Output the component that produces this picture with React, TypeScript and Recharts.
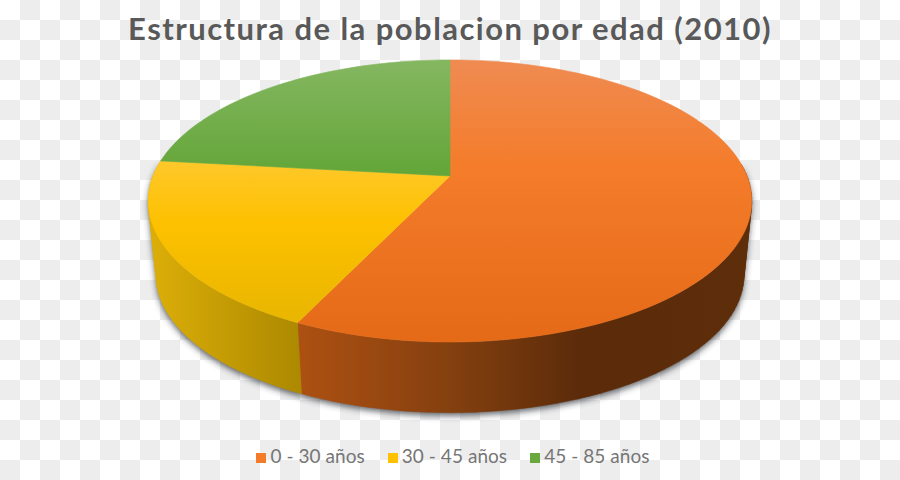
import React from 'react';
import { PieChart, Pie, Cell, Legend } from 'recharts';

const CATEGORIES = ['0 - 30 años', '30 - 45 años', '45 - 85 años'];
const SHARES = [57.1, 19.7, 23.2];
const COLORS = ['#f47b2a', '#fdc100', '#6aa83e'];

const TITLE = 'Estructura de la poblacion por edad (2010)';

// gradient stops of the upper face, over the whole disc height
const TOP_STOPS = [
  ['#ef8b52', '#f47c2a', '#e56a17'],
  ['#ffd36f', '#fdc100', '#e4b300'],
  ['#85b761', '#62a537', '#5a9a30'],
];
const TOP_MIDDLE = [0.38, 0.58, 0.42];
// gradient stops of the side wall, left to right
const WALL_STOPS = [
  ['#c25c16', '#a94f12', '#5a2a0a'],
  ['#dcae08', '#ac8900', '#8f7200'],
  ['#5a9a30', '#5a9a30', '#5a9a30'],
];

const chartData = CATEGORIES.map((name, i) => ({ name, value: SHARES[i] }));

// perspective of the disc
const SQUASH = 0.46;
const TILT = 0.177;
const DEPTH_Y = 75;
const DEPTH_SCALE = 0.974;

const project = (cx: number, cy: number, r: number, t: number, lower = false) => {
  const rad = (t * Math.PI) / 180;
  const u = Math.sin(rad);
  const v = Math.cos(rad);
  const w = 1 + TILT * v;
  const s = lower ? DEPTH_SCALE : 1;
  return {
    x: cx + (r * s * u) / w,
    y: cy + (lower ? DEPTH_Y : 0) - (r * SQUASH * s * v) / w,
  };
};

const arcPoints = (cx: number, cy: number, r: number, from: number, to: number) => {
  const pts = [];
  const steps = Math.max(2, Math.ceil(Math.abs(to - from) / 2));
  for (let i = 0; i <= steps; i++) {
    const p = project(cx, cy, r, from + ((to - from) * i) / steps);
    pts.push(`${p.x.toFixed(2)},${p.y.toFixed(2)}`);
  }
  return pts;
};

// the wall is swept quad by quad so the straight silhouette at the sides gets filled too
const wallPath = (props: any) => {
  const { cx, cy, outerRadius, startAngle, endAngle } = props;
  const from = Math.max(90 - startAngle, 85);
  const to = Math.min(90 - endAngle, 276.5);
  if (to <= from) return null;
  const steps = Math.ceil((to - from) / 2);
  let d = '';
  for (let i = 0; i < steps; i++) {
    const t0 = from + ((to - from) * i) / steps;
    const t1 = from + ((to - from) * (i + 1)) / steps;
    let quad = [
      project(cx, cy, outerRadius, t0),
      project(cx, cy, outerRadius, t1),
      project(cx, cy, outerRadius, t1, true),
      project(cx, cy, outerRadius, t0, true),
    ];
    const area = quad.reduce((sum, p, k) => {
      const q = quad[(k + 1) % 4];
      return sum + p.x * q.y - q.x * p.y;
    }, 0);
    if (area < 0) quad = quad.reverse();
    d += `M${quad.map((p) => `${p.x.toFixed(2)},${p.y.toFixed(2)}`).join('L')}Z`;
  }
  return d;
};

const TopFace = (props: any) => {
  const { cx, cy, outerRadius, startAngle, endAngle, name } = props;
  const i = CATEGORIES.indexOf(name);
  const pts = arcPoints(cx, cy, outerRadius, 90 - startAngle, 90 - endAngle);
  const id = `top-${i}`;
  return (
    <g>
      <defs>
        <linearGradient id={id} gradientUnits="userSpaceOnUse" x1="0" y1="60" x2="0" y2="342">
          <stop offset="0" stopColor={TOP_STOPS[i][0]} />
          <stop offset={TOP_MIDDLE[i]} stopColor={TOP_STOPS[i][1]} />
          <stop offset="1" stopColor={TOP_STOPS[i][2]} />
        </linearGradient>
      </defs>
      <path d={`M${cx},${cy}L${pts.join('L')}Z`} fill={`url(#${id})`} stroke={`url(#${id})`} strokeWidth={0.6} />
    </g>
  );
};

const WallFace = (props: any) => {
  const i = CATEGORIES.indexOf(props.name);
  const d = wallPath(props);
  if (!d) return <g />;
  const id = `wall-${i}`;
  return (
    <g>
      <defs>
        <linearGradient id={id} gradientUnits="userSpaceOnUse" x1="150" y1="0" x2="750" y2="0">
          {i === 0 ? (
            <>
              <stop offset="0.25" stopColor="#ad5012" />
              <stop offset="0.5" stopColor="#84400f" />
              <stop offset="0.72" stopColor="#5b2b0a" />
              <stop offset="1" stopColor="#5e2d0a" />
            </>
          ) : (
            <>
              <stop offset="0" stopColor={WALL_STOPS[i][0]} />
              <stop offset="0.25" stopColor={WALL_STOPS[i][1]} />
            </>
          )}
        </linearGradient>
      </defs>
      <path d={d} fill={`url(#${id})`} stroke={`url(#${id})`} strokeWidth={0.5} />
    </g>
  );
};

const WallShadow = (props: any) => {
  const d = wallPath(props);
  if (!d) return <g />;
  return (
    <g>
      <defs>
        <filter id="wall-blur" x="-20%" y="-20%" width="140%" height="160%">
          <feGaussianBlur stdDeviation="3" />
        </filter>
      </defs>
      <path d={d} fill="#2c3338" fillOpacity={0.75} transform="translate(0,3)" filter="url(#wall-blur)" />
    </g>
  );
};

const legendText = (value: string) => (
  <span
    style={{
      color: '#767676',
      letterSpacing: 0.05,
      marginRight: value === CATEGORIES[CATEGORIES.length - 1] ? 0 : 13,
    }}
  >
    {value}
  </span>
);

export default function App() {
  const pieProps = {
    data: chartData,
    dataKey: 'value',
    nameKey: 'name',
    cx: 450,
    cy: 176,
    outerRadius: 297,
    startAngle: 90,
    endAngle: -270,
    stroke: 'none',
    isAnimationActive: false,
  };
  return (
    <div
      style={{
        position: 'absolute',
        left: 0,
        top: 0,
        width: 900,
        height: 480,
        overflow: 'hidden',
        background: 'repeating-conic-gradient(#ededed 0 25%, #ffffff 0 50%) 0 0 / 40px 40px',
        fontFamily: 'Lato, sans-serif',
      }}
    >
      <div
        style={{
          position: 'absolute',
          left: 0,
          top: 9,
          width: 900,
          textAlign: 'center',
          fontSize: 31,
          lineHeight: '38px',
          fontWeight: 700,
          letterSpacing: 1.45,
          color: '#595959',
        }}
      >
        {TITLE}
      </div>
      <PieChart
        width={900}
        height={480}
        margin={{ top: 0, right: 0, bottom: 0, left: 0 }}
        style={{ position: 'absolute', left: 0, top: 0 }}
      >
        <Pie {...pieProps} legendType="none" shape={WallShadow}>
          {chartData.map((_, i) => (
            <Cell key={i} fill={COLORS[i]} />
          ))}
        </Pie>
        <Pie {...pieProps} legendType="none" shape={WallFace}>
          {chartData.map((_, i) => (
            <Cell key={i} fill={COLORS[i]} />
          ))}
        </Pie>
        <Pie {...pieProps} legendType="square" shape={TopFace}>
          {chartData.map((_, i) => (
            <Cell key={i} fill={COLORS[i]} />
          ))}
        </Pie>
        <Legend
          verticalAlign="bottom"
          align="center"
          iconType="square"
          iconSize={10}
          formatter={legendText}
          wrapperStyle={{ bottom: 13, left: 8, fontSize: 19 }}
        />
      </PieChart>
    </div>
  );
}
